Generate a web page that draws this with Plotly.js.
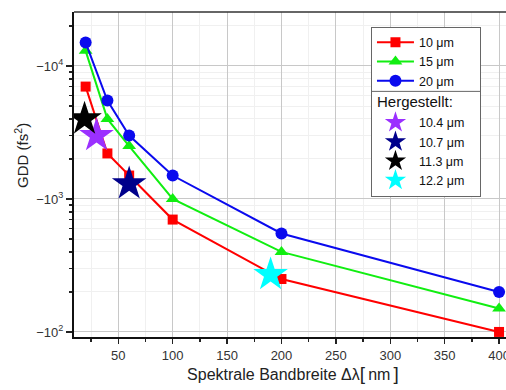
<!DOCTYPE html>
<html>
<head>
<meta charset="utf-8">
<script src="https://cdn.plot.ly/plotly-3.0.1.min.js"></script>
<style>
html,body{margin:0;padding:0;overflow:hidden;background:#fff;}
#chart{width:512px;height:390px;}
</style>
</head>
<body>
<div id="chart"></div>
<script>
// Bandwidth (nm)
const bandwidth = [20, 40, 60, 100, 200, 400];
// GDD values (fs^2), negative
const gdd10 = [-7000, -2200, -1500, -700, -250, -100];
const gdd15 = [-13000, -4000, -2500, -1000, -400, -150];
const gdd20 = [-15000, -5500, -3000, -1500, -550, -200];
const seriesNames = ['10 μm', '15 μm', '20 μm'];
const seriesColors = ['#ff0000', '#11ee11', '#0a0aee'];
const seriesSymbols = ['square', 'triangle-up', 'circle'];
const seriesSizes = [10, 12, 12];

// Fabricated samples
const starNames = ['10.4 μm', '10.7 μm', '11.3 μm', '12.2 μm'];
const starX = [30, 60, 19, 190];
const starY = [-3000, -1300, -4000, -270];
const starColors = ['#9b30ff', '#00008b', '#000000', '#00ffff'];

const yTickVals = [-100, -1000, -10000];
const yTickText = ['−10<sup>2</sup>', '−10<sup>3</sup>', '−10<sup>4</sup>'];
const xTickVals = [50, 100, 150, 200, 250, 300, 350, 400];

const mag = a => a.map(v => Math.abs(v));
const allSeries = [gdd10, gdd15, gdd20];
const traces = [];
allSeries.forEach((s, i) => {
  traces.push({
    x: bandwidth, y: mag(s), name: seriesNames[i] + '\u00a0\u00a0\u00a0\u00a0\u00a0', type: 'scatter', mode: 'lines+markers',
    line: {color: seriesColors[i], width: 2},
    marker: {color: seriesColors[i], symbol: seriesSymbols[i], size: seriesSizes[i]},
    legendgroup: 'sim'
  });
});
starNames.forEach((n, i) => {
  const t = {
    x: [starX[i]], y: mag([starY[i]]), name: n + '\u00a0\u00a0\u00a0', type: 'scatter', mode: 'markers',
    marker: {color: starColors[i], symbol: 'star', size: 26, line: {width: 0}},
    legendgroup: 'made'
  };
  if (i === 0) t.legendgrouptitle = {text: 'Hergestellt:', font: {size: 15, color: '#111'}};
  traces.push(t);
});

const minorY = [];
[100, 1000].forEach(d => { for (let k = 2; k <= 9; k++) minorY.push(d * k); });
minorY.push(20000);

const baseShapes = [
  {type: 'line', xref: 'paper', yref: 'paper', x0: 0, x1: 1, y0: 1, y1: 1, line: {color: '#333', width: 1.5}}
];

const layout = {
  width: 512, height: 390,
  margin: {l: 74, r: 0, t: 12, b: 53},
  paper_bgcolor: '#fff', plot_bgcolor: '#fff',
  font: {family: 'Liberation Sans, Arial, sans-serif', color: '#333'},
  showlegend: true,
  legend: {
    x: 0.678, y: 0.955, xanchor: 'left', yanchor: 'top',
    bgcolor: 'rgba(255,255,255,0)', bordercolor: '#666', borderwidth: 1,
    font: {size: 12.5, color: '#111'}, traceorder: 'grouped', tracegroupgap: 0,
    itemsizing: 'trace', itemwidth: 37
  },
  xaxis: {
    range: [9.3, 411.9], tickmode: 'array', tickvals: xTickVals,
    ticks: 'outside', ticklen: 5, tickwidth: 1.5, tickcolor: '#222',
    showline: true, linecolor: '#111', linewidth: 2,
    showgrid: true, gridcolor: '#c8c8c8', gridwidth: 1, zeroline: false,
    tickfont: {size: 13, color: '#333'},
    minor: {dtick: 25, tick0: 0, ticks: 'outside', ticklen: 3, tickcolor: '#222', showgrid: true, gridcolor: '#f0f0f0'},
    title: {text: 'Spektrale Bandbreite Δλ<span style="font-size:19px">[</span>\u2009nm\u2009<span style="font-size:19px">]</span>', font: {size: 16, color: '#222'}, standoff: 6}
  },
  yaxis: {
    type: 'log', range: [1.962, 4.406], tickmode: 'array', tickvals: mag(yTickVals), ticktext: yTickText,
    ticks: 'outside', ticklen: 6, tickwidth: 1.5, tickcolor: '#222',
    showline: true, linecolor: '#111', linewidth: 2,
    showgrid: true, gridcolor: '#c8c8c8', gridwidth: 1, zeroline: false,
    tickfont: {size: 13, color: '#333'},
    minor: {tickmode: 'array', tickvals: minorY, ticks: 'outside', ticklen: 3, tickcolor: '#222', showgrid: true, gridcolor: '#f0f0f0'}
  },
  annotations: [
    {text: 'GDD (fs<sup>2</sup>)', xref: 'paper', yref: 'paper', x: -0.119, y: 0.56,
     xanchor: 'center', yanchor: 'middle', textangle: -90, showarrow: false,
     font: {size: 15, color: '#222'}}
  ],
  shapes: baseShapes
};

Plotly.newPlot('chart', traces, layout, {displayModeBar: false, staticPlot: true}).then(gd => {
  // white backing + divider line for the legend, placed from its rendered box
  const bg = gd.querySelector('.legend .bg');
  const traceEls = gd.querySelectorAll('.legend .traces');
  if (!bg || traceEls.length < 4) return;
  const lb = bg.getBoundingClientRect();
  const cb = gd.getBoundingClientRect();
  const fs = gd._fullLayout._size;
  const px2x = p => (p - cb.left - fs.l) / fs.w;
  const px2y = p => 1 - (p - cb.top - fs.t) / fs.h;
  const r3 = traceEls[2].getBoundingClientRect();
  const r4 = traceEls[3].getBoundingClientRect();
  const yDiv = px2y((r3.bottom + r4.top) / 2 + 1);
  const shapes = baseShapes.concat([
    {type: 'rect', xref: 'paper', yref: 'paper', x0: px2x(lb.left), x1: px2x(lb.right), y0: px2y(lb.bottom), y1: px2y(lb.top),
     fillcolor: '#fff', line: {width: 0}, layer: 'above'},
    {type: 'line', xref: 'paper', yref: 'paper', x0: px2x(lb.left), x1: px2x(lb.right), y0: yDiv, y1: yDiv,
     line: {color: '#666', width: 1}, layer: 'above'}
  ]);
  Plotly.relayout(gd, {shapes: shapes});
});
</script>
</body>
</html>
